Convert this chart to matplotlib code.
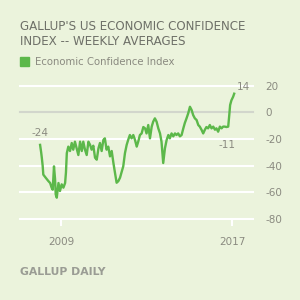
import matplotlib.pyplot as plt
from matplotlib.patches import Rectangle

# traced points (decimal year, index value)
years = [
    2008.02, 2008.07, 2008.10, 2008.14, 2008.17, 2008.28, 2008.41, 2008.49, 2008.56, 2008.61,
    2008.67, 2008.72, 2008.75, 2008.80, 2008.88, 2008.95, 2009.03, 2009.11, 2009.19, 2009.23,
    2009.27, 2009.34, 2009.42, 2009.50, 2009.57, 2009.65, 2009.73, 2009.81, 2009.89, 2009.97,
    2010.04, 2010.12, 2010.20, 2010.28, 2010.36, 2010.43, 2010.51, 2010.59, 2010.67, 2010.75,
    2010.82, 2010.90, 2010.98, 2011.05, 2011.13, 2011.21, 2011.29, 2011.37, 2011.45, 2011.52,
    2011.60, 2011.68, 2011.76, 2011.83, 2011.91, 2011.99, 2012.07, 2012.14, 2012.22, 2012.30,
    2012.38, 2012.46, 2012.54, 2012.61, 2012.69, 2012.77, 2012.85, 2012.93, 2013.00, 2013.08,
    2013.16, 2013.24, 2013.31, 2013.39, 2013.47, 2013.55, 2013.63, 2013.70, 2013.78, 2013.86,
    2013.94, 2014.02, 2014.09, 2014.17, 2014.25, 2014.33, 2014.40, 2014.48, 2014.56, 2014.64,
    2014.72, 2014.79, 2014.87, 2014.95, 2015.03, 2015.11, 2015.18, 2015.26, 2015.34, 2015.42,
    2015.49, 2015.57, 2015.65, 2015.73, 2015.80, 2015.88, 2015.96, 2016.04, 2016.12, 2016.20,
    2016.27, 2016.35, 2016.43, 2016.51, 2016.58, 2016.66, 2016.74, 2016.82, 2016.87, 2016.91,
    2016.97, 2017.05, 2017.10,
]
values = [
    -24.4, -30, -34, -40, -46.7, -49, -51.6, -53, -56.5, -58,
    -40.5, -50, -61.5, -64, -53, -59, -54, -56.5, -53, -45,
    -30.6, -25.7, -29, -23, -28, -22, -27, -32, -22, -29,
    -22, -28, -32, -22, -24.4, -28, -25, -34, -35.5, -27,
    -23, -29, -20.7, -19.5, -28, -25.7, -33, -29, -38, -45,
    -52.8, -51.6, -49, -45, -40.5, -30.6, -24.4, -20.7, -17, -19.5,
    -17, -20.7, -25.7, -22, -17, -15.8, -11, -12, -15.8, -9.5,
    -19.5, -10.8, -7, -4.5, -7, -12, -15.8, -22, -38, -27,
    -20.7, -17, -19.5, -15.8, -18, -15.8, -17, -15.8, -18, -17,
    -12, -8, -4.5, -0.7, 4.2, 1.7, -2, -4.5, -5.7, -9.5,
    -10.7, -13, -15.8, -13, -11, -12, -9.5, -12, -10.7, -13,
    -12, -14.5, -10.7, -12, -10.7, -10.7, -11, -10.7, -2, 5.5,
    9, 11.7, 14,
]
callouts = [(2008.02, -24.4, "-24"), (2016.78, -11, "-11"), (2017.10, 14, "14")]
y_ticks = [20, 0, -20, -40, -60, -80]
x_ticks = [2009, 2017]

BG = "#ebf3dc"
GREEN = "#5cb84a"
GREY = "#8a8a80"

fig = plt.figure(figsize=(3, 3), dpi=100, facecolor=BG)
ax = fig.add_axes([20 / 300, 1 - 219 / 300, 233 / 300, 133.3 / 300])
ax.set_facecolor(BG)
ax.set_xlim(2007.08, 2017.98)
ax.set_ylim(-80, 20)

for t in y_ticks:
    c = "#d2d6cc" if t == 0 else "white"
    ax.axhline(t, color=c, lw=1.5, zorder=1, clip_on=False)

ax.plot(years, values, color=GREEN, lw=1.7, zorder=3, solid_joinstyle="round")

for x, y, s in callouts:
    if s == "-24":
        ax.annotate(s, (x, y), xytext=(0, 5), textcoords="offset points",
                    ha="center", va="bottom", fontsize=7.5, color=GREY)
    elif s == "-11":
        ax.annotate(s, (x, y), xytext=(0, -9), textcoords="offset points",
                    ha="center", va="top", fontsize=7.5, color=GREY)
    else:
        ax.annotate(s, (x, y), xytext=(2, 1), textcoords="offset points",
                    ha="left", va="bottom", fontsize=7.5, color=GREY)

for side in ax.spines.values():
    side.set_visible(False)
ax.yaxis.tick_right()
ax.set_yticks(y_ticks)
ax.set_yticklabels([str(t) for t in y_ticks])
ax.tick_params(axis="y", length=0, pad=9, labelsize=7.5, labelcolor=GREY)
ax.set_xticks(x_ticks)
ax.set_xticklabels([str(t) for t in x_ticks])
ax.tick_params(axis="x", length=5, width=1.5, color="white", pad=8,
               labelsize=7.5, labelcolor=GREY)

fig.text(20 / 300, 1 - 20 / 300, "GALLUP'S US ECONOMIC CONFIDENCE\nINDEX -- WEEKLY AVERAGES",
         ha="left", va="top", fontsize=8.6, color="#6e7068", linespacing=1.2)
fig.patches.append(Rectangle((20 / 300, 1 - 66 / 300), 9 / 300, 9 / 300,
                             transform=fig.transFigure, color=GREEN, figure=fig))
fig.text(35 / 300, 1 - 62 / 300, "Economic Confidence Index", ha="left", va="center",
         fontsize=7.3, color=GREY)
fig.text(20 / 300, 1 - 272 / 300, "GALLUP DAILY", ha="left", va="center",
         fontsize=7.8, color="#9a9c94", fontweight="bold")

fig.savefig("out.png", dpi=100, facecolor=BG)
